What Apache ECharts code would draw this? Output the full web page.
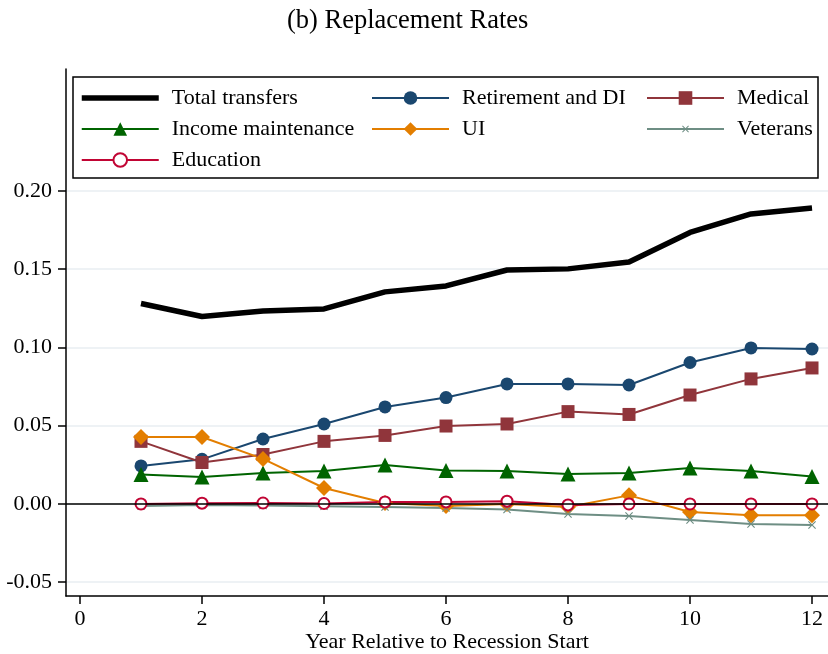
<!DOCTYPE html>
<html>
<head>
<meta charset="utf-8">
<script src="https://cdn.jsdelivr.net/npm/echarts@6/dist/echarts.min.js"></script>
<style>
html,body{margin:0;padding:0;background:#fff;}
#chart{width:828px;height:654px;}
</style>
</head>
<body>
<div id="chart"></div>
<script>
const years = [1,2,3,4,5,6,7,8,9,10,11,12];
const totalTransfers = [0.1281,0.1198,0.1233,0.1246,0.1355,0.1393,0.1495,0.1502,0.1546,0.1735,0.1853,0.1891];
const retirementDI = [0.0243,0.0285,0.0415,0.0511,0.0620,0.0680,0.0767,0.0767,0.0760,0.0904,0.0997,0.0990];
const medical = [0.0400,0.0265,0.0316,0.0400,0.0438,0.0498,0.0511,0.0590,0.0572,0.0696,0.0799,0.0869];
const incomeMaintenance = [0.0188,0.0173,0.0198,0.0211,0.0249,0.0214,0.0211,0.0192,0.0198,0.0230,0.0211,0.0176];
const ui = [0.0428,0.0428,0.0288,0.0102,0.0006,-0.0013,0.0000,-0.0020,0.0055,-0.0051,-0.0072,-0.0072];
const veterans = [-0.0013,-0.0006,-0.0010,-0.0015,-0.0020,-0.0026,-0.0035,-0.0064,-0.0077,-0.0102,-0.0128,-0.0134];
const education = [0.0000,0.0005,0.0006,0.0003,0.0013,0.0013,0.0018,-0.0006,0.0000,0.0000,0.0000,0.0000];
const xTicks = [0,2,4,6,8,10,12];
const yTicks = [-0.05,0,0.05,0.10,0.15,0.20];

const FONT = "'Liberation Serif','DejaVu Serif',serif";
const pairs = arr => years.map((x,i)=>[x,arr[i]]);
const X_SYMBOL = 'path://M-5,-5L-5,-5ZM15,15L15,15ZM0,1L1,0L5,4L9,0L10,1L6,5L10,9L9,10L5,6L1,10L0,9L4,5Z';

const chart = echarts.init(document.getElementById('chart'));
const legendCommon = {
  orient:'vertical', padding:0, itemWidth:77, itemHeight:17, itemGap:9,
  selectedMode:false,
  textStyle:{fontFamily:FONT, fontSize:22, color:'#000', lineHeight:22, padding:[0,0,0,8]}
};
chart.setOption({
  animation:false,
  backgroundColor:'#fff',
  title:{text:'(b) Replacement Rates', left:282, top:3,
    textStyle:{fontFamily:FONT, fontSize:26.5, fontWeight:'normal', color:'#000'}},
  graphic:[{type:'rect', z:0, shape:{x:73,y:77,width:745,height:101},
    style:{fill:'#fff', stroke:'#000', lineWidth:1.5}}],
  legend:[
    Object.assign({left:79, top:87, data:[{name:'Total transfers', itemStyle:{opacity:0}, lineStyle:{width:5.5, color:'#000'}},'Income maintenance','Education']}, legendCommon),
    Object.assign({left:371, top:87, data:['Retirement and DI','UI']}, legendCommon),
    Object.assign({left:646, top:87, data:['Medical','Veterans']}, legendCommon)
  ],
  grid:{left:66, right:0, top:69, bottom:58, containLabel:false, outerBoundsMode:'none'},
  xAxis:{type:'value', min:-0.2295, max:12.262,
    name:'Year Relative to Recession Start', nameLocation:'middle', nameGap:35, nameMoveOverlap:false,
    nameTextStyle:{fontFamily:FONT, fontSize:22, color:'#000'},
    axisLine:{onZero:false, lineStyle:{color:'#000', width:1.5}},
    axisTick:{show:true, length:8, customValues:xTicks, lineStyle:{color:'#000', width:1.5}},
    axisLabel:{customValues:xTicks, fontFamily:FONT, fontSize:22, color:'#000', margin:12},
    splitLine:{show:false}},
  yAxis:{type:'value', min:-0.0588, max:0.2779,
    axisLine:{show:true, onZero:false, lineStyle:{color:'#000', width:1.5}},
    axisTick:{show:true, length:8, customValues:yTicks, lineStyle:{color:'#000', width:1.5}},
    axisLabel:{customValues:yTicks, fontFamily:FONT, fontSize:22, color:'#000', margin:14,
      formatter:v=>v.toFixed(2)},
    splitLine:{show:true, lineStyle:{color:'#e8eef2', width:1.5}}},
  series:[
    {name:'Total transfers', type:'line', data:pairs(totalTransfers), symbol:'none',
      lineStyle:{color:'#000', width:5.5}, itemStyle:{color:'#000'},
      markLine:{silent:true, symbol:['none','none'], label:{show:false},
        lineStyle:{color:'#000', width:1.5, type:'solid'}, data:[{yAxis:0}]}},
    {name:'Retirement and DI', type:'line', data:pairs(retirementDI), symbol:'circle', symbolSize:13,
      lineStyle:{color:'#1a476f', width:2}, itemStyle:{color:'#1a476f', borderWidth:0}},
    {name:'Medical', type:'line', data:pairs(medical), symbol:'rect', symbolSize:13,
      lineStyle:{color:'#90353b', width:2}, itemStyle:{color:'#90353b', borderWidth:0}},
    {name:'Income maintenance', type:'line', data:pairs(incomeMaintenance), symbol:'triangle', symbolSize:15,
      lineStyle:{color:'#006400', width:2}, itemStyle:{color:'#006400', borderWidth:0}},
    {name:'UI', type:'line', data:pairs(ui), symbol:'diamond', symbolSize:16,
      lineStyle:{color:'#e37e00', width:2}, itemStyle:{color:'#e37e00', borderWidth:0}},
    {name:'Veterans', type:'line', data:pairs(veterans), symbol:X_SYMBOL, symbolSize:16,
      lineStyle:{color:'#6e8e84', width:2}, itemStyle:{color:'#6e8e84', borderWidth:0}},
    {name:'Education', type:'line', data:pairs(education), symbol:'emptyCircle', symbolSize:11,
      lineStyle:{color:'#c10534', width:2}, itemStyle:{color:'#c10534', borderWidth:2}}
  ]
});
</script>
</body>
</html>
